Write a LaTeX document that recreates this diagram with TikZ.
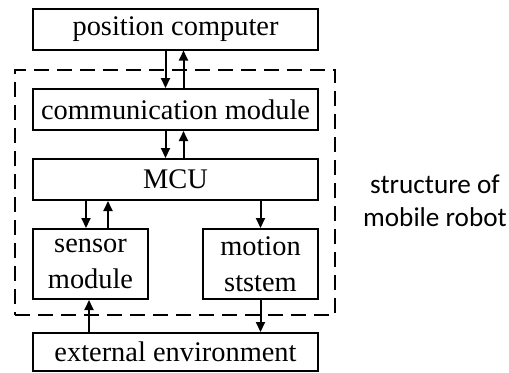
\documentclass[tikz,border=0pt]{standalone}
\usepackage{fontspec}
\setmainfont{Liberation Serif}
\newfontfamily\labelfont{Carlito}
\usetikzlibrary{arrows.meta}

\begin{document}
\begin{tikzpicture}[x=0.5pt,y=-0.5pt,
    blk/.style={draw, line width=1pt, inner sep=0pt, align=center, font=\fontsize{14.2}{18}\selectfont},
    wide/.style={blk, minimum width=142.5pt, minimum height=20.5pt},
    half/.style={blk, minimum width=57.5pt, minimum height=35pt},
    link/.style={line width=1pt, -{Triangle[length=5pt,width=4.5pt]}}]
    \useasboundingbox (0,0) rectangle (509,372);

    \node[draw, dash pattern=on 7.5pt off 4pt, line width=1.2pt, minimum width=160pt, minimum height=122.5pt] (robot) at (175,192.5) {};

    \node[wide] (pc) at (175.5,29) {position computer};
    \node[wide] (comm) at (175.5,109.5) {communication module};
    \node[wide] (mcu) at (175.5,179.5) {MCU};
    \node[half] (sensor) at (90.5,264) {sensor\\module};
    \node[half] (motion) at (260.5,264) {motion\\ststem};
    \node[wide, minimum height=19pt] (ext) at (175.5,352) {external environment};

    \node[font=\labelfont\fontsize{13.6}{16.5}\selectfont, align=center] (title) at (435,201) {structure of\\mobile robot};

    \draw[link] ([xshift=-5pt]pc.south) -- ([xshift=-5pt]comm.north);
    \draw[link] ([xshift=4pt]comm.north) -- ([xshift=4pt]pc.south);
    \draw[link] ([xshift=-5pt]comm.south) -- ([xshift=-5pt]mcu.north);
    \draw[link] ([xshift=4pt]mcu.north) -- ([xshift=4pt]comm.south);
    \draw[link] ([xshift=-2.25pt]sensor.north |- mcu.south) -- ([xshift=-2.25pt]sensor.north);
    \draw[link] ([xshift=8.75pt]sensor.north) -- ([xshift=8.75pt]sensor.north |- mcu.south);
    \draw[link] (motion.north |- mcu.south) -- (motion.north);
    \draw[link] ([xshift=-0.75pt]sensor.south |- ext.north) -- ([xshift=-0.75pt]sensor.south);
    \draw[link] (motion.south) -- (motion.south |- ext.north);
\end{tikzpicture}
\end{document}
